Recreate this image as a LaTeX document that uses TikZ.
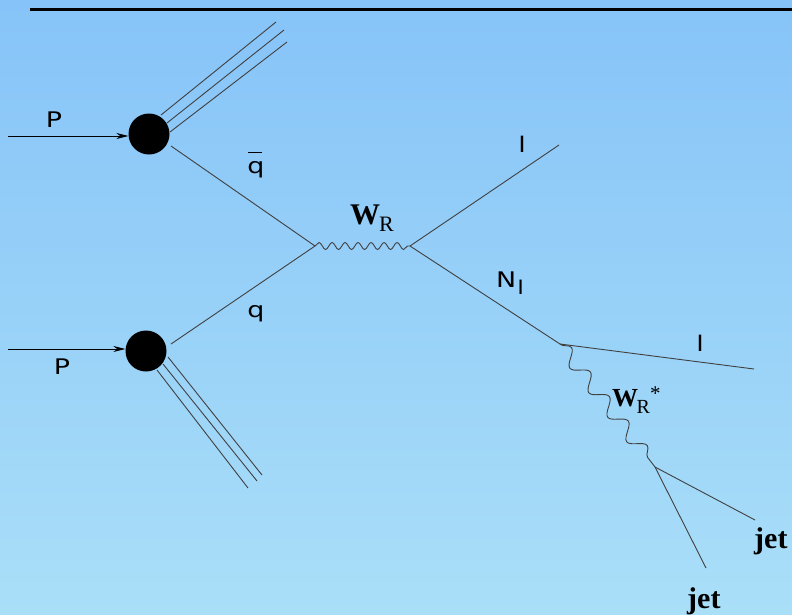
\documentclass[tikz,border=0pt]{standalone}
\usepackage{fontspec}
\setmainfont{Liberation Serif}
\newfontfamily\lblfont[FakeStretch=1.25]{DejaVu Sans}
\usetikzlibrary{arrows.meta,decorations.pathmorphing}
\definecolor{bgtop}{HTML}{86C3F8}
\definecolor{bgbot}{HTML}{AADFF8}
\definecolor{linec}{HTML}{404040}
\tikzset{
  prop/.style={draw=linec, line width=0.9pt},
  beam/.style={draw=black, line width=0.8pt, -{Stealth[length=12pt,width=6pt]}},
  blob/.style={circle, fill=black, minimum size=41pt, inner sep=0pt},
  wavy/.style={draw=linec, line width=0.9pt, decorate, decoration={snake, amplitude=3.5pt, segment length=13pt}},
  bigwavy/.style={draw=linec, line width=0.9pt, decorate, decoration={snake, amplitude=7pt, segment length=31pt}},
  slbl/.style={font=\lblfont\fontsize{21.5}{21.5}\selectfont, text=black, inner sep=0pt},
  rlbl/.style={text=black, inner sep=0pt}
}
\begin{document}
\begin{tikzpicture}[x=1pt,y=-1pt]
\useasboundingbox (0,0) rectangle (792,614);
\shade[top color=bgtop, bottom color=bgbot] (0,0) rectangle (792,614);
% top rule
\coordinate (rl) at (30,9.7);
\coordinate (rr) at (792,9.7);
\draw[line width=2.7pt] (rl) -- (rr);

% protons
\node[blob] (b1) at (149,134) {};
\node[blob] (b2) at (146,351) {};
\coordinate (p1s) at (8,136);
\coordinate (p2s) at (8,349);
\draw[beam] (p1s) -- (b1.west |- p1s);
\draw[beam] (p2s) -- (b2.west |- p2s);
\node[slbl, anchor=base] (lp1) at (54,127) {P};
\node[slbl, anchor=base] (lp2) at (62,374) {P};

% remnants
\coordinate (r1a) at (161,115); \coordinate (r1ae) at (276,22);
\coordinate (r1b) at (167,123); \coordinate (r1be) at (284,30);
\coordinate (r1c) at (170,132); \coordinate (r1ce) at (287,42);
\draw[prop] (r1a) -- (r1ae);
\draw[prop] (r1b) -- (r1be);
\draw[prop] (r1c) -- (r1ce);
\coordinate (r2a) at (157,370); \coordinate (r2ae) at (248,488);
\coordinate (r2b) at (163,364); \coordinate (r2be) at (257,481);
\coordinate (r2c) at (168,357); \coordinate (r2ce) at (262,475);
\draw[prop] (r2a) -- (r2ae);
\draw[prop] (r2b) -- (r2be);
\draw[prop] (r2c) -- (r2ce);

% vertices
\coordinate (v1) at (315,246);
\coordinate (v2) at (410,246);
\coordinate (v3) at (560,344);
\coordinate (v4) at (655,467);
\coordinate (qb) at (171,146);
\coordinate (qq) at (171,344);
\coordinate (l1) at (559,145);
\coordinate (l2) at (754,369);
\coordinate (j1) at (755,520);
\coordinate (j2) at (706,568);

\draw[prop] (qb) -- (v1);
\draw[prop] (qq) -- (v1);
\draw[wavy] (v1) -- (v2);
\draw[prop] (v2) -- (l1);
\draw[prop] (v2) -- (v3);
\draw[prop] (v3) -- (l2);
\draw[bigwavy] (v3) -- (v4);
\draw[prop] (v4) -- (j1);
\draw[prop] (v4) -- (j2);

% labels
\node[slbl, anchor=base] (lqb) at (256,173) {\rlap{\kern0.5pt\rule[20pt]{14pt}{1.5pt}}q};
\node[slbl, anchor=base] (lq) at (256,317) {q};
\node[rlbl, anchor=base west] (lw) at (350,224) {{\fontsize{30}{30}\selectfont\bfseries W}\kern-1pt{\fontsize{22}{22}\selectfont\raisebox{-7pt}{R}}};
\node[slbl, anchor=base] (ll1) at (522,152) {l};
\node[slbl, anchor=base west] (ln) at (496,287) {N\kern1pt{\fontsize{19}{19}\selectfont\raisebox{-7pt}{l}}};
\node[slbl, anchor=base] (ll2) at (700,351) {l};
\node[rlbl, anchor=base west] (lws) at (612,406) {{\fontsize{26}{26}\selectfont\bfseries W}\kern-1.5pt{\fontsize{20}{20}\selectfont\raisebox{-7pt}{R}}{\fontsize{21}{21}\selectfont\raisebox{6pt}{*}}};
\node[rlbl, anchor=base west, font=\fontsize{30}{30}\selectfont\bfseries] (lj1) at (754,548) {jet};
\node[rlbl, anchor=base west, font=\fontsize{30}{30}\selectfont\bfseries] (lj2) at (687,608) {jet};
\end{tikzpicture}
\end{document}
